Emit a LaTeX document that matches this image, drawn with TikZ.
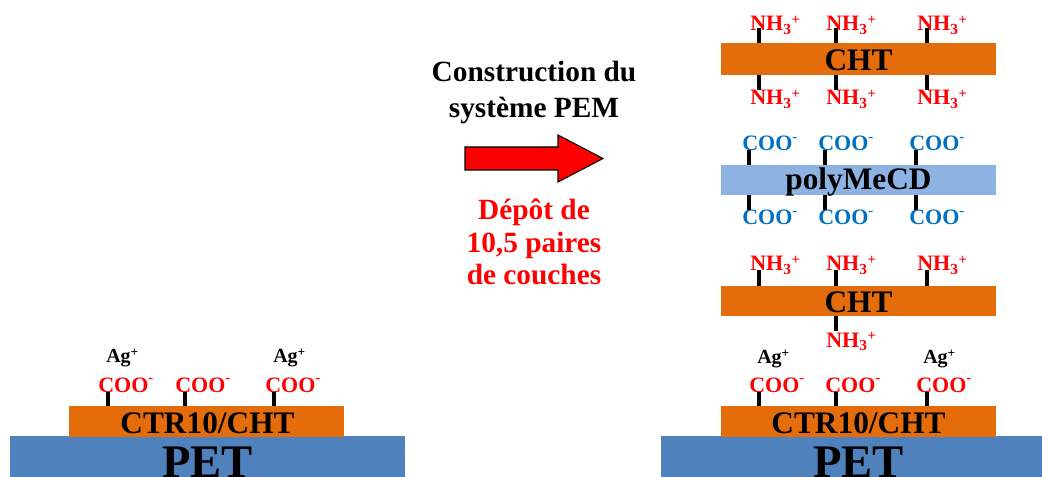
\documentclass[tikz,border=0pt]{standalone}
\usepackage{fontspec}
\setmainfont{Liberation Serif}
\usetikzlibrary{fit}
\definecolor{layerorange}{HTML}{E46C0A}
\definecolor{petblue}{HTML}{4F81BD}
\definecolor{cdblue}{HTML}{8DB3E2}
\definecolor{coored}{HTML}{FF0000}
\definecolor{cooblue}{HTML}{0070C0}
\newcommand{\coo}{COO\raisebox{0.42em}{\fontsize{11}{11}\selectfont -}}
\newcommand{\nhthree}{NH\textsubscript{3}\raisebox{0.3em}{\fontsize{11}{11}\selectfont +}}
\newcommand{\agplus}{Ag\raisebox{0.3em}{\fontsize{10}{10}\selectfont +}}
\begin{document}
\begin{tikzpicture}[x=0.75pt,y=-0.75pt,
  layer/.style={inner sep=0pt,outer sep=0pt,draw=none},
  layertext/.style={anchor=base,inner sep=0pt,font=\bfseries\fontsize{23.5}{23.5}\selectfont},
  pettext/.style={anchor=base,inner sep=0pt,font=\bfseries\fontsize{35}{35}\selectfont},
  grp/.style={anchor=base west,inner sep=0pt,font=\bfseries\fontsize{16.5}{16.5}\selectfont},
  redgrp/.style={grp,text=coored},
  bluegrp/.style={grp,text=cooblue},
  ion/.style={anchor=base west,inner sep=0pt,font=\bfseries\fontsize{15}{15}\selectfont},
  stick/.style={line width=3.4pt,black},
  midtext/.style={anchor=base,inner sep=0pt,font=\bfseries\fontsize{22}{22}\selectfont},
  bigarrow/.style={fill=red,draw=black,line width=0.8pt,line join=miter}]
\useasboundingbox (0,0) rectangle (1042,477);

% ---------- left: initial state ----------
\node[layer,fill=petblue,fit={(10,436)(405,480)}] (petL) {};
\node[pettext] (petLt) at (207.5,477) {PET};
\node[layer,fill=layerorange,fit={(69,406)(344,437)}] (ctrL) {};
\node[layertext] (ctrLt) at (207.5,433) {CTR10/CHT};
\foreach \x/\s [count=\i] in {98/108,175/185,265/274}{
  \node[redgrp] (cooL\i) at (\x,392) {\coo};
  \draw[stick] (\s,392) -- (\s,406);
}
\node[ion] (agL1) at (106,362) {\agplus};
\node[ion] (agL2) at (273,362) {\agplus};

% ---------- middle ----------
\node[midtext] (t1) at (534,82) {Construction du};
\node[midtext] (t2) at (534,118) {système PEM};
\draw[bigarrow] (465,147) -- (558,147) -- (558,135) -- (603,158.5) -- (558,182) -- (558,170) -- (465,170) -- cycle;
\node[midtext,text=coored] (r1) at (534,220) {Dépôt de};
\node[midtext,text=coored] (r2) at (534,253) {10,5 paires};
\node[midtext,text=coored] (r3) at (534,285) {de couches};

% ---------- right: PEM system ----------
\node[layer,fill=petblue,fit={(661,436)(1056,480)}] (petR) {};
\node[pettext] (petRt) at (858.5,477) {PET};
\node[layer,fill=layerorange,fit={(721,406)(996,437)}] (ctrR) {};
\node[layertext] (ctrRt) at (858.5,433) {CTR10/CHT};
\foreach \x/\s [count=\i] in {749/759,825/836,916/927}{
  \node[redgrp] (cooR\i) at (\x,392) {\coo};
  \draw[stick] (\s,392) -- (\s,406);
}
\node[ion] (agR1) at (757,363) {\agplus};
\node[ion] (agR2) at (923,363) {\agplus};

% lower CHT
\node[layer,fill=layerorange,fit={(721,286)(996,316)}] (cht1) {};
\node[layertext] (cht1t) at (858.5,312) {CHT};
\foreach \x/\s [count=\i] in {750/759,826/836,917/927}{
  \node[redgrp] (nhA\i) at (\x,271) {\nhthree};
  \draw[stick] (\s,270) -- (\s,286);
}
\node[redgrp] (nhB) at (826,347) {\nhthree};
\draw[stick] (836,316) -- (836,331);

% polyMeCD
\node[layer,fill=cdblue,fit={(721,165)(996,195)}] (cd) {};
\node[layertext] (cdt) at (858.5,190) {polyMeCD};
\foreach \x/\s [count=\i] in {742/749,818/825,909/916}{
  \node[bluegrp] (cooU\i) at (\x,151) {\coo};
  \draw[stick] (\s,150) -- (\s,165);
  \node[bluegrp] (cooD\i) at (\x,225) {\coo};
  \draw[stick] (\s,195) -- (\s,210);
}

% top CHT
\node[layer,fill=layerorange,fit={(721,43)(996,75)}] (cht2) {};
\node[layertext] (cht2t) at (858.5,71) {CHT};
\foreach \x/\s [count=\i] in {750/759,826/836,917/927}{
  \node[redgrp] (nhT\i) at (\x,31) {\nhthree};
  \draw[stick] (\s,28) -- (\s,43);
  \node[redgrp] (nhU\i) at (\x,105) {\nhthree};
  \draw[stick] (\s,75) -- (\s,90);
}
\end{tikzpicture}
\end{document}
